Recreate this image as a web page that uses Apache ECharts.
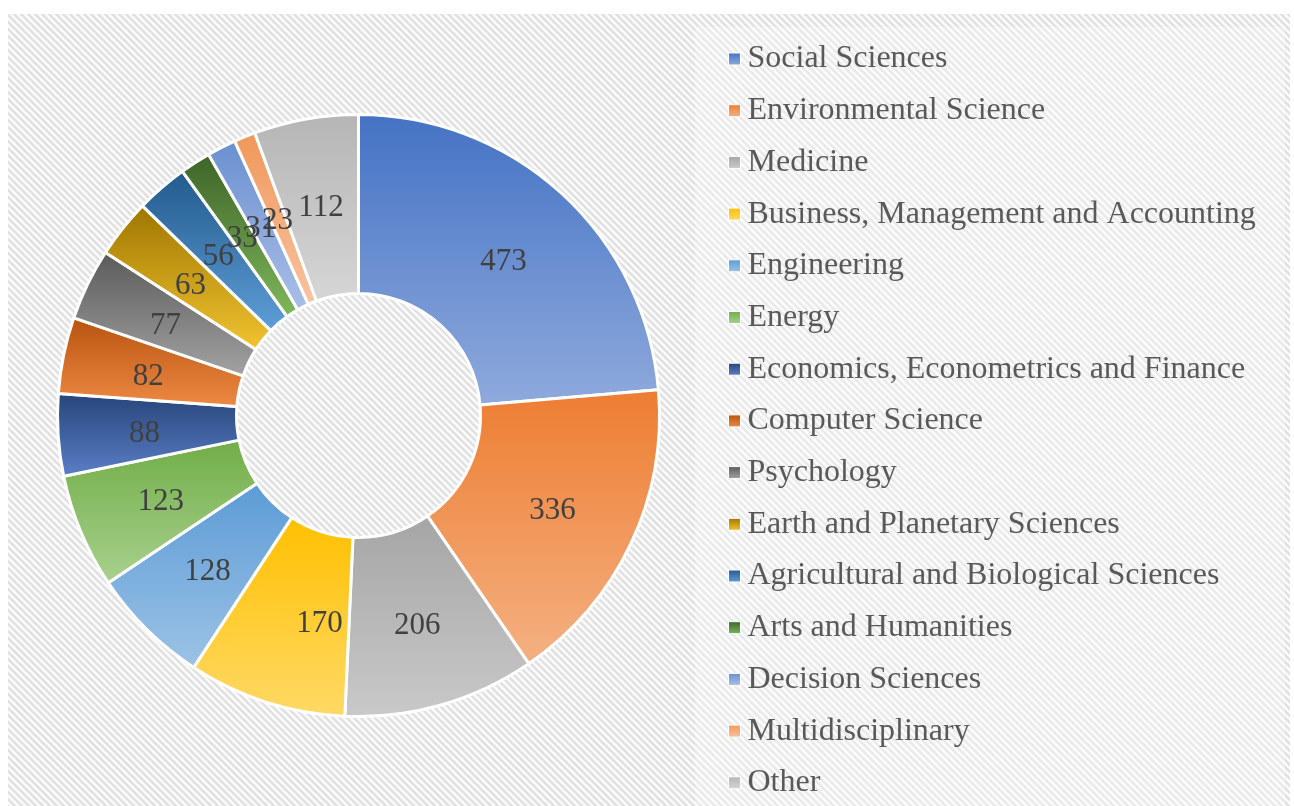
<!DOCTYPE html>
<html>
<head>
<meta charset="utf-8">
<script src="https://cdn.jsdelivr.net/npm/echarts@6/dist/echarts.min.js"></script>
<style>
  html, body { margin: 0; padding: 0; background: #ffffff; }
  #chart { width: 1294px; height: 806px; }
</style>
</head>
<body>
<div id="chart"></div>
<script>
// ---- data ----
const categories = [
  'Social Sciences',
  'Environmental Science',
  'Medicine',
  'Business, Management and Accounting',
  'Engineering',
  'Energy',
  'Economics, Econometrics and Finance',
  'Computer Science',
  'Psychology',
  'Earth and Planetary Sciences',
  'Agricultural and Biological Sciences',
  'Arts and Humanities',
  'Decision Sciences',
  'Multidisciplinary',
  'Other'
];
const values = [473, 336, 206, 170, 128, 123, 88, 82, 77, 63, 56, 33, 31, 23, 112];

// gradient colours (top -> bottom) for each slice
const topColors = ['#4472C4', '#ED7D31', '#A5A5A5', '#FFC000', '#5B9BD5', '#70AD47',
  '#264478', '#B8530F', '#5A5A5A', '#9E7600', '#225A8C', '#3E6328', '#6A8FD0', '#F1975A', '#B5B5B5'];
const bottomColors = ['#8FAADC', '#F4B183', '#C9C9C9', '#FFD966', '#9DC3E6', '#A9D18E',
  '#5B7FC8', '#EE8A44', '#A3A3A3', '#F2C431', '#5E9ED8', '#7FB85A', '#A9BFE8', '#F8C3A0', '#D6D6D6'];

function grad(i) {
  return new echarts.graphic.LinearGradient(0, 0, 0, 1, [
    { offset: 0, color: topColors[i] },
    { offset: 1, color: bottomColors[i] }
  ]);
}

// hatched background pattern
function makeHatch() {
  const n = 7;
  const c = document.createElement('canvas');
  c.width = n; c.height = n;
  const ctx = c.getContext('2d');
  ctx.fillStyle = '#fbfbfb';
  ctx.fillRect(0, 0, n, n);
  ctx.strokeStyle = '#e1e1e1';
  ctx.lineWidth = 2.6;
  ctx.beginPath();
  ctx.moveTo(-1, -1); ctx.lineTo(n + 1, n + 1);
  ctx.moveTo(-1 - n, -1); ctx.lineTo(1, n + 1);
  ctx.moveTo(n - 1, -1); ctx.lineTo(2 * n + 1, n + 1);
  ctx.stroke();
  return c;
}

const chart = echarts.init(document.getElementById('chart'), null, { renderer: 'canvas' });

const seriesData = categories.map((name, i) => ({
  name: name,
  value: values[i],
  itemStyle: { color: grad(i) }
}));

const option = {
  backgroundColor: '#ffffff',
  animation: false,
  graphic: [
    { type: 'rect', z: -10, shape: { x: 8, y: 14, width: 1282, height: 800 },
      style: { fill: { image: makeHatch(), repeat: 'repeat' } }, silent: true },
    { type: 'rect', z: -9, shape: { x: 695, y: 27, width: 590, height: 790 },
      style: { fill: 'rgba(255,255,255,0.3)' }, silent: true }
  ],
  legend: {
    orient: 'vertical',
    left: 723,
    top: 38,
    height: 780,
    itemWidth: 12,
    itemHeight: 12,
    itemGap: 19.7,
    icon: 'rect',
    itemStyle: { borderWidth: 1, borderColor: '#ffffff' },
    textStyle: {
      fontFamily: 'Liberation Serif',
      fontSize: 32,
      lineHeight: 30,
      color: '#595959',
      padding: [0, 0, 0, 2]
    },
    data: categories
  },
  series: [{
    type: 'pie',
    center: [358.5, 415.5],
    radius: [122, 301],
    startAngle: 90,
    clockwise: true,
    avoidLabelOverlap: false,
    itemStyle: { borderColor: '#ffffff', borderWidth: 3 },
    label: {
      show: true,
      position: 'inside',
      formatter: '{c}',
      fontFamily: 'Liberation Serif',
      fontSize: 31,
      color: '#404040'
    },
    labelLayout: function (params) {
      return {
        hideOverlap: false,
        dx: params.dataIndex === 3 ? 27 : 0,
        dy: 4
      };
    },
    labelLine: { show: false },
    emphasis: { disabled: true },
    data: seriesData
  }]
};

chart.setOption(option);
</script>
</body>
</html>
